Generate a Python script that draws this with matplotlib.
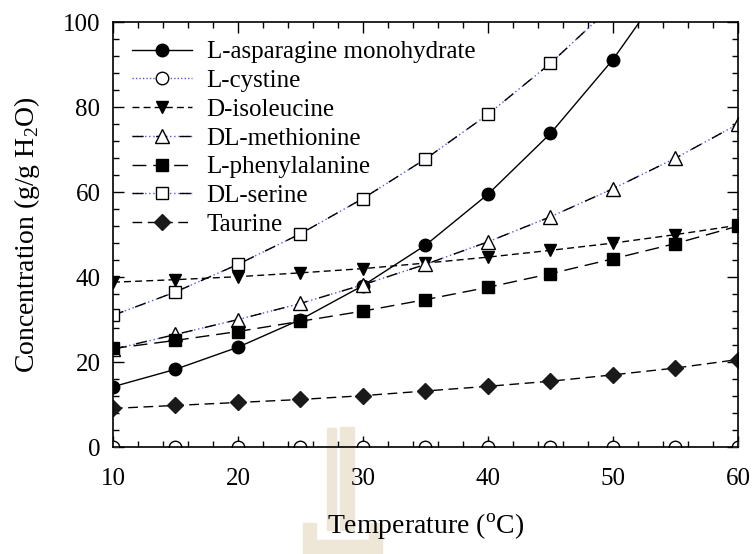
import matplotlib
matplotlib.use("Agg")
import matplotlib.pyplot as plt
from matplotlib.patches import Rectangle
from matplotlib.ticker import MultipleLocator

plt.rcParams['font.family'] = ['Liberation Serif', 'DejaVu Serif']
plt.rcParams['mathtext.fontset'] = 'custom'
plt.rcParams['mathtext.rm'] = 'Liberation Serif'

# solubility data (g / g H2O) vs temperature
temp = [10, 15, 20, 25, 30, 35, 40, 45, 50, 55, 60]
asparagine = [14.2, 18.3, 23.5, 30.0, 38.0, 47.5, 59.5, 73.8, 91.2, 112.0, 136.0]
cystine = [0.1, 0.1, 0.1, 0.1, 0.1, 0.1, 0.1, 0.1, 0.1, 0.1, 0.1]
isoleucine = [38.8, 39.4, 40.1, 41.0, 42.0, 43.3, 44.7, 46.3, 48.0, 50.0, 52.2]
methionine = [23.0, 26.5, 30.0, 33.8, 38.2, 43.0, 48.3, 54.2, 60.8, 68.0, 76.0]
phenylalanine = [23.2, 25.1, 27.2, 29.6, 32.0, 34.7, 37.6, 40.8, 44.3, 47.9, 52.0]
serine = [31.0, 36.5, 43.0, 50.2, 58.5, 67.8, 78.3, 90.3, 104.0, 119.0, 135.0]
taurine = [9.1, 9.8, 10.5, 11.2, 12.1, 13.2, 14.3, 15.5, 17.0, 18.6, 20.6]

blue = '#5555ee'
fig = plt.figure(figsize=(7.53, 5.54), dpi=100)
fig.patch.set_facecolor('white')

# faint logo behind the axes
logo = '#eee6d7'
for (x0, y0, x1, y1) in [(327, 428, 336, 530), (340, 427, 354, 530),
                         (303, 523, 316, 554), (369, 523, 382, 554),
                         (316, 540, 369, 554)]:
    fig.patches.append(Rectangle((x0 / 753, 1 - y1 / 554), (x1 - x0) / 753,
                                 (y1 - y0) / 554, transform=fig.transFigure,
                                 color=logo, zorder=-1))

ax = fig.add_axes([0.150, 0.193, 0.830, 0.767])
ax.patch.set_alpha(0)

mk = dict(markeredgecolor='black', markeredgewidth=1)
h1, = ax.plot(temp, asparagine, '-', color='black', lw=1, marker='o',
              ms=9, markerfacecolor='black', **mk)
h2, = ax.plot(temp, cystine, color=blue, lw=1, ls=(0, (1, 1.5)), marker='o',
              ms=9, markerfacecolor='white', **mk)
h3, = ax.plot(temp, isoleucine, color='black', lw=1, ls=(0, (5, 3)), marker='v',
              ms=9, markerfacecolor='black', **mk)
m_dot, = ax.plot(temp, methionine, color=blue, lw=1, ls=(0, (1, 2)))
h4, = ax.plot(temp, methionine, color='black', lw=1, ls=(0, (8, 9)), marker='^',
              ms=10, markerfacecolor='white', **mk)
h5, = ax.plot(temp, phenylalanine, color='black', lw=1, ls=(0, (10, 5)), marker='s',
              ms=8, markerfacecolor='black', **mk)
s_dot, = ax.plot(temp, serine, color=blue, lw=1, ls=(0, (1, 2)))
h6, = ax.plot(temp, serine, color='black', lw=1, ls=(0, (8, 9)), marker='s',
              ms=9, markerfacecolor='white', **mk)
h7, = ax.plot(temp, taurine, color='black', lw=1, ls=(0, (7, 4)), marker='D',
              ms=8, markerfacecolor='#1a1a1a', markeredgecolor='#1a1a1a')

ax.set_xlim(10, 60)
ax.set_ylim(0, 100)
ax.xaxis.set_major_locator(MultipleLocator(10))
ax.xaxis.set_minor_locator(MultipleLocator(2))
ax.yaxis.set_major_locator(MultipleLocator(20))
ax.yaxis.set_minor_locator(MultipleLocator(4))
ax.tick_params(which='both', direction='in', top=True, right=True,
               labelsize=18, width=1)
ax.tick_params(which='major', length=8)
ax.tick_params(which='minor', length=4)
ax.tick_params(axis='x', which='major', pad=15)
ax.tick_params(axis='y', which='major', pad=9)
for sp in ax.spines.values():
    sp.set_linewidth(1.2)

ax.set_xlabel(r'Temperature ($^{\rm o}$C)', fontsize=20, labelpad=16)
ax.set_ylabel(r'Concentration (g/g H$_2$O)', fontsize=20, labelpad=15)

names = ['L-asparagine monohydrate', 'L-cystine', 'D-isoleucine',
         'DL-methionine', 'L-phenylalanine', 'DL-serine', 'Taurine']
handles = [h1, h2, h3, (m_dot, h4), h5, (s_dot, h6), h7]
ax.legend(handles, names, loc='upper left', frameon=False, fontsize=18,
          handlelength=2.4, labelspacing=0.25, handletextpad=0.6,
          borderaxespad=0.35, numpoints=1)

fig.savefig('out.png', dpi=100)
